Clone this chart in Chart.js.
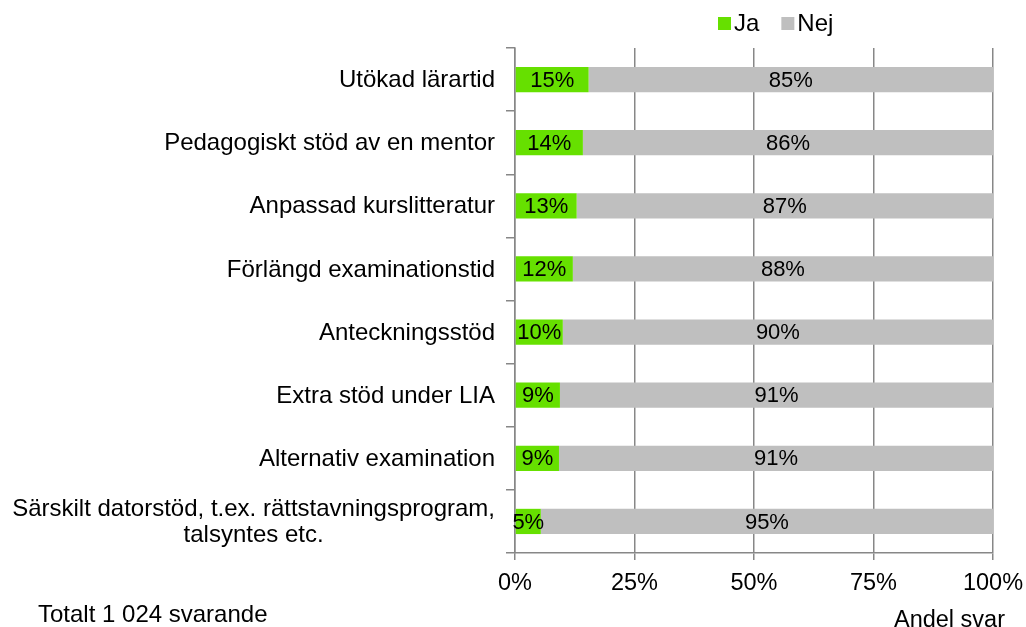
<!DOCTYPE html>
<html>
<head>
<meta charset="utf-8">
<script src="https://cdn.jsdelivr.net/npm/chart.js@4/dist/chart.umd.min.js"></script>
<style>
  html, body { margin: 0; padding: 0; background: #fff; }
  canvas { display: block; }
</style>
</head>
<body>
<canvas id="chart" width="1026" height="627"></canvas>
<script>
// data
const categories = [
  'Utökad lärartid',
  'Pedagogiskt stöd av en mentor',
  'Anpassad kurslitteratur',
  'Förlängd examinationstid',
  'Anteckningsstöd',
  'Extra stöd under LIA',
  'Alternativ examination',
  ['Särskilt datorstöd, t.ex. rättstavningsprogram,', 'talsyntes etc.']
];
const jaValues = [15.4, 14.2, 12.9, 12.1, 10.0, 9.4, 9.2, 5.4];
const nejValues = [84.6, 85.8, 87.1, 87.9, 90.0, 90.6, 90.8, 94.6];
const seriesNames = ['Ja', 'Nej'];
const xTicks = [0, 25, 50, 75, 100];
const footLeft = 'Totalt 1 024 svarande';
const footRight = 'Andel svar';

const FONT = '"Liberation Sans", Arial, sans-serif';
const GREEN = '#66e000';
const GREY = '#bfbfbf';
const AXIS = '#878787';

// bar value labels in the middle of each segment
const valueLabels = {
  id: 'valueLabels',
  afterDatasetsDraw(chart) {
    const ctx = chart.ctx;
    ctx.save();
    ctx.font = '22px ' + FONT;
    ctx.fillStyle = '#000';
    ctx.textAlign = 'center';
    ctx.textBaseline = 'middle';
    chart.data.datasets.forEach((ds, di) => {
      const meta = chart.getDatasetMeta(di);
      meta.data.forEach((bar, i) => {
        const cx = (bar.x + bar.base) / 2;
        ctx.fillText(Math.round(ds.data[i]) + '%', cx, bar.y + 1);
      });
    });
    ctx.restore();
  }
};

// category labels: block right aligned, lines centred on each other
const catLabels = {
  id: 'catLabels',
  afterDraw(chart) {
    const ctx = chart.ctx;
    const yScale = chart.scales.y;
    const right = chart.chartArea.left - 20;
    const lineH = 26;
    ctx.save();
    ctx.font = '24px ' + FONT;
    ctx.fillStyle = '#000';
    ctx.textAlign = 'center';
    ctx.textBaseline = 'middle';
    categories.forEach((cat, i) => {
      const lines = Array.isArray(cat) ? cat : [cat];
      const w = Math.max(...lines.map(l => ctx.measureText(l).width));
      const cx = right - w / 2;
      const cy = yScale.getPixelForValue(i) + 1;
      const y0 = cy - (lines.length - 1) * lineH / 2;
      lines.forEach((l, k) => ctx.fillText(l, cx, y0 + k * lineH));
    });
    ctx.restore();
  }
};

// legend and footer texts
const extras = {
  id: 'extras',
  afterDraw(chart) {
    const ctx = chart.ctx;
    ctx.save();
    ctx.font = '24px ' + FONT;
    ctx.fillStyle = '#000';
    ctx.textBaseline = 'middle';

    let x = 718;
    const ly = 23;
    chart.data.datasets.forEach((ds) => {
      ctx.fillStyle = ds.backgroundColor;
      ctx.fillRect(x, ly - 6, 13, 13);
      ctx.fillStyle = '#000';
      ctx.textAlign = 'left';
      ctx.fillText(ds.label, x + 16, ly + 1);
      x += 16 + ctx.measureText(ds.label).width + 22;
    });

    ctx.textAlign = 'left';
    ctx.fillText(footLeft, 38, 615);
    ctx.font = '23.5px ' + FONT;
    ctx.textAlign = 'right';
    ctx.fillText(footRight, 1005, 621);
    ctx.restore();
  }
};

new Chart(document.getElementById('chart'), {
  type: 'bar',
  data: {
    labels: categories,
    datasets: [
      { label: seriesNames[0], data: jaValues, backgroundColor: GREEN },
      { label: seriesNames[1], data: nejValues, backgroundColor: GREY }
    ]
  },
  options: {
    indexAxis: 'y',
    responsive: false,
    animation: false,
    devicePixelRatio: 1,
    layout: { padding: { top: 48, right: 33, bottom: 0, left: 0 } },
    datasets: { bar: { categoryPercentage: 1, barPercentage: 0.4 } },
    plugins: {
      legend: { display: false },
      tooltip: { enabled: false }
    },
    scales: {
      x: {
        stacked: true,
        min: 0,
        max: 100,
        afterBuildTicks: (scale) => { scale.ticks = xTicks.map(v => ({ value: v })); },
        ticks: {
          callback: (v) => v + '%',
          font: { family: FONT, size: 23.5 },
          color: '#000',
          padding: 9,
          maxRotation: 0
        },
        grid: { color: AXIS, lineWidth: 1.5, tickLength: 7, drawTicks: true },
        border: { color: AXIS, width: 1.5 },
        afterFit: (scale) => {
          scale.height = 74;
          scale.paddingLeft = 0;
          scale.paddingRight = 0;
        }
      },
      y: {
        stacked: true,
        ticks: { display: false },
        grid: { drawOnChartArea: false, drawTicks: true, tickLength: 9, color: AXIS, lineWidth: 1.5, offset: true },
        border: { color: AXIS, width: 1.5 },
        afterFit: (scale) => { scale.width = 515; }
      }
    }
  },
  plugins: [valueLabels, catLabels, extras]
});
</script>
</body>
</html>
